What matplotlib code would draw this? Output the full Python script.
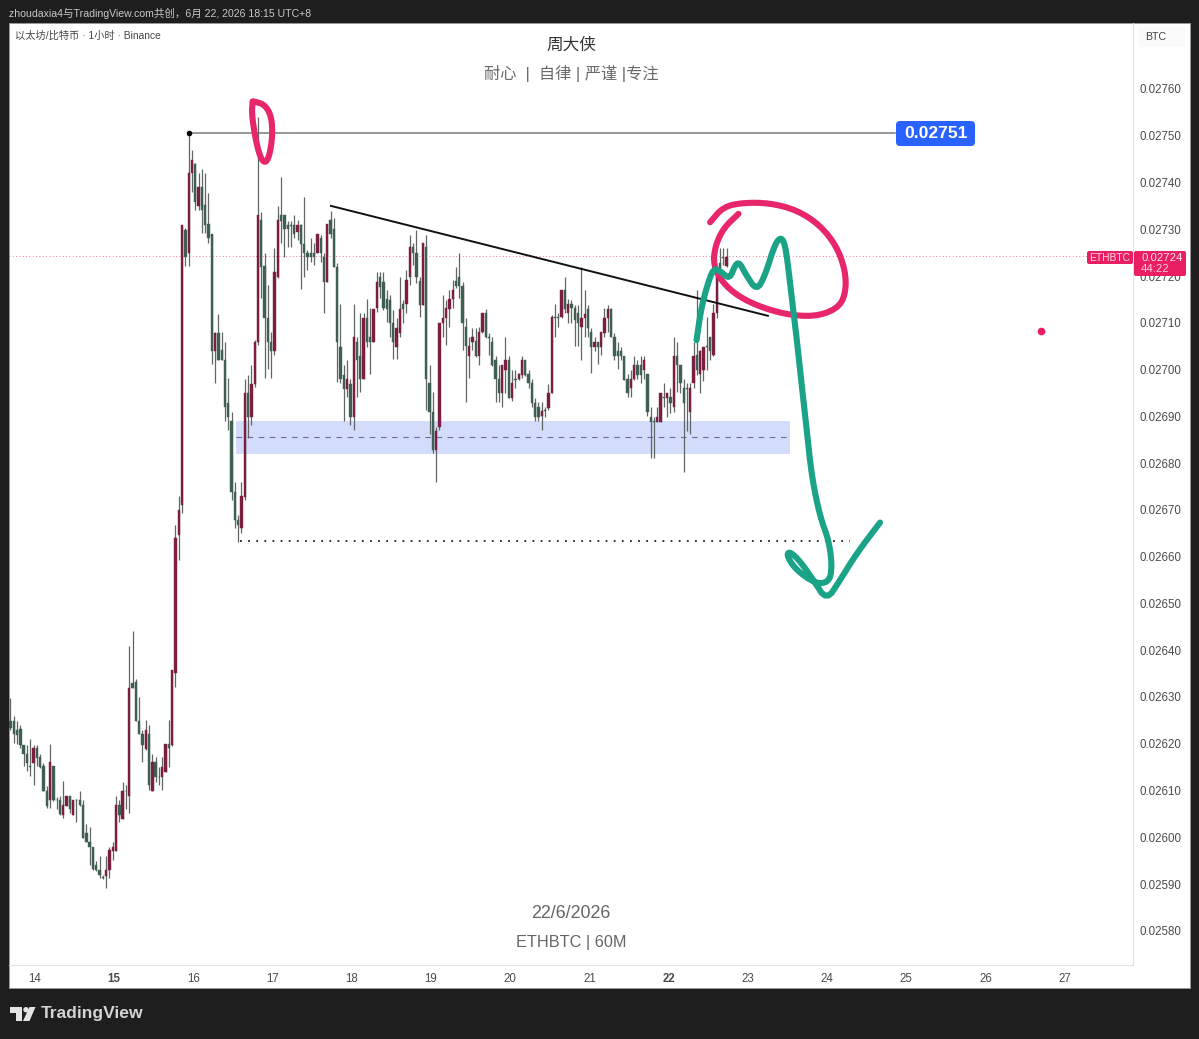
import matplotlib
matplotlib.use("Agg")
import matplotlib.pyplot as plt
import numpy as np
from matplotlib.patches import FancyBboxPatch, Polygon, Circle, Rectangle

plt.rcParams['font.family'] = ['Liberation Sans', 'Noto Sans CJK SC', 'DejaVu Sans']

# prices are in units of 0.00001 BTC, one candle per hour
UNIT = 1e-5

highs = [
    2629.8, 2626.0, 2624.8, 2624.1, 2619.8, 2619.8, 2621.0, 2619.8, 2619.8, 2617.9,
    2615.9, 2611.0, 2619.9, 2615.3, 2608.7, 2608.9, 2612.0, 2608.9, 2608.9, 2608.0,
    2608.2, 2610.0, 2608.0, 2602.9, 2602.2, 2598.0, 2595.0, 2595.9, 2592.0, 2595.9,
    2597.9, 2598.9, 2608.9, 2608.0, 2611.9, 2611.1, 2640.9, 2644.1, 2633.8, 2630.1,
    2623.0, 2625.0, 2624.1, 2617.9, 2617.1, 2615.1, 2617.1, 2620.0, 2625.0, 2635.8,
    2666.8, 2673.0, 2730.9, 2730.3, 2750.6, 2747.0, 2744.2, 2742.0, 2742.9, 2742.0,
    2737.8, 2729.0, 2708.1, 2711.9, 2708.1, 2705.9, 2698.2, 2691.0, 2676.0, 2668.9,
    2676.0, 2698.0, 2698.9, 2701.0, 2706.3, 2754.0, 2733.7, 2725.0, 2718.1, 2708.1,
    2726.0, 2735.0, 2741.2, 2733.1, 2731.8, 2731.8, 2733.1, 2732.0, 2731.1, 2736.9,
    2725.6, 2728.2, 2727.1, 2729.0, 2728.8, 2725.0, 2731.1, 2733.9, 2732.4, 2722.8,
    2714.0, 2701.0, 2702.1, 2698.0, 2714.0, 2707.0, 2712.1, 2712.1, 2715.1, 2713.2,
    2713.0, 2720.9, 2720.9, 2720.9, 2717.0, 2716.0, 2712.8, 2711.1, 2719.8, 2714.9,
    2721.3, 2728.8, 2727.1, 2729.9, 2719.8, 2727.1, 2728.8, 2701.0, 2695.2, 2687.8,
    2710.0, 2716.0, 2714.9, 2717.0, 2719.2, 2722.0, 2725.0, 2718.7, 2711.1, 2707.0,
    2708.9, 2708.9, 2709.1, 2712.1, 2713.0, 2707.8, 2707.0, 2702.9, 2701.0, 2701.0,
    2707.0, 2702.9, 2699.9, 2699.9, 2699.3, 2702.9, 2702.1, 2699.9, 2698.0, 2693.9,
    2693.1, 2693.1, 2692.0, 2696.9, 2711.7, 2714.0, 2712.1, 2717.0, 2719.8, 2715.1,
    2714.9, 2713.8, 2713.8, 2722.0, 2717.0, 2713.8, 2708.9, 2707.0, 2705.9, 2708.1,
    2713.2, 2713.8, 2713.2, 2707.8, 2705.9, 2704.9, 2702.9, 2699.1, 2699.9, 2702.9,
    2702.1, 2702.9, 2702.9, 2699.1, 2692.0, 2689.9, 2692.0, 2695.0, 2697.2, 2695.0,
    2696.1, 2707.0, 2705.9, 2701.0, 2698.0, 2697.2, 2697.2, 2705.9, 2717.0, 2704.2,
    2704.9, 2711.3, 2707.0, 2714.0, 2721.7, 2726.0, 2726.0, 2726.0,
]
lows = [
    2623.0, 2620.1, 2620.0, 2619.1, 2615.2, 2614.1, 2613.1, 2611.2, 2615.2, 2614.8,
    2609.8, 2606.2, 2606.2, 2607.7, 2606.0, 2604.8, 2604.2, 2606.6, 2605.2, 2604.8,
    2603.2, 2606.6, 2599.8, 2598.9, 2594.1, 2593.1, 2592.9, 2591.3, 2591.1, 2589.1,
    2591.3, 2595.2, 2597.0, 2603.2, 2603.9, 2606.0, 2605.2, 2631.9, 2624.8, 2622.0,
    2616.0, 2618.7, 2610.2, 2609.8, 2611.9, 2611.2, 2610.2, 2613.9, 2615.1, 2619.6,
    2632.2, 2659.3, 2669.4, 2722.2, 2722.2, 2738.0, 2734.1, 2734.1, 2729.2, 2729.2,
    2727.1, 2701.2, 2697.2, 2702.1, 2702.1, 2689.0, 2687.1, 2672.1, 2666.2, 2663.2,
    2665.1, 2672.1, 2685.4, 2688.2, 2696.3, 2705.3, 2715.3, 2698.2, 2700.2, 2698.2,
    2703.1, 2719.6, 2727.1, 2724.1, 2726.2, 2726.2, 2728.2, 2727.7, 2717.3, 2719.8,
    2721.3, 2723.0, 2722.4, 2725.0, 2723.0, 2712.1, 2718.7, 2728.2, 2722.0, 2697.4,
    2697.2, 2689.0, 2694.2, 2688.2, 2687.1, 2694.2, 2695.2, 2698.0, 2704.9, 2699.1,
    2705.9, 2712.3, 2715.3, 2712.8, 2710.2, 2707.0, 2702.3, 2702.3, 2707.0, 2710.0,
    2712.1, 2718.1, 2722.4, 2718.5, 2711.3, 2713.8, 2691.4, 2686.3, 2682.2, 2676.0,
    2687.1, 2707.0, 2705.3, 2709.1, 2713.2, 2717.5, 2715.3, 2704.2, 2693.1, 2698.2,
    2704.2, 2702.7, 2701.0, 2707.8, 2706.8, 2703.1, 2700.8, 2693.1, 2693.1, 2692.0,
    2695.0, 2693.9, 2693.3, 2696.1, 2697.8, 2698.2, 2698.6, 2696.1, 2692.0, 2689.0,
    2689.0, 2687.1, 2689.9, 2691.4, 2695.0, 2707.0, 2709.1, 2711.1, 2712.1, 2710.0,
    2710.0, 2705.1, 2705.1, 2702.1, 2707.0, 2707.0, 2699.3, 2704.0, 2701.2, 2703.1,
    2707.0, 2708.1, 2707.0, 2702.1, 2700.2, 2702.1, 2697.8, 2694.2, 2694.2, 2697.8,
    2698.0, 2697.2, 2698.0, 2690.1, 2681.1, 2681.1, 2688.8, 2688.8, 2692.0, 2689.9,
    2690.7, 2691.0, 2695.2, 2695.0, 2678.1, 2686.9, 2686.3, 2696.1, 2698.9, 2695.0,
    2697.6, 2699.9, 2702.1, 2702.9, 2711.1, 2719.8, 2722.4, 2722.0,
]
opens = [
    2624.8, 2624.8, 2623.0, 2623.1, 2619.8, 2617.9, 2615.2, 2615.9, 2619.1, 2617.1,
    2615.2, 2609.9, 2608.0, 2615.2, 2608.0, 2608.0, 2604.8, 2606.7, 2608.9, 2604.8,
    2608.0, 2608.0, 2607.0, 2600.9, 2599.1, 2597.9, 2594.1, 2593.1, 2591.6, 2591.8,
    2593.1, 2597.0, 2597.1, 2607.0, 2604.0, 2610.0, 2608.9, 2633.0, 2633.1, 2624.9,
    2622.1, 2618.9, 2622.1, 2609.9, 2616.0, 2613.0, 2613.0, 2613.9, 2620.0, 2619.8,
    2635.2, 2664.7, 2671.1, 2729.9, 2725.0, 2742.0, 2744.0, 2735.0, 2739.1, 2735.2,
    2731.1, 2729.0, 2704.0, 2707.8, 2704.2, 2702.1, 2692.9, 2689.0, 2673.9, 2667.9,
    2666.2, 2672.8, 2695.0, 2689.9, 2696.9, 2705.9, 2732.0, 2722.2, 2711.1, 2705.9,
    2704.0, 2719.8, 2733.1, 2733.1, 2730.9, 2730.9, 2730.9, 2729.4, 2730.9, 2726.9,
    2725.0, 2725.0, 2725.0, 2725.0, 2728.2, 2724.1, 2718.7, 2732.0, 2730.1, 2722.0,
    2704.9, 2698.9, 2695.9, 2696.9, 2689.9, 2705.9, 2702.9, 2698.0, 2711.1, 2707.0,
    2705.9, 2713.2, 2719.8, 2718.7, 2715.1, 2714.9, 2710.0, 2704.9, 2707.8, 2714.0,
    2714.0, 2719.8, 2726.2, 2725.0, 2719.0, 2713.8, 2726.2, 2697.2, 2691.0, 2682.8,
    2687.8, 2710.0, 2711.1, 2713.0, 2715.1, 2719.0, 2719.8, 2717.9, 2709.1, 2702.9,
    2705.9, 2706.1, 2702.9, 2708.1, 2712.1, 2707.0, 2705.9, 2702.1, 2698.0, 2695.0,
    2699.9, 2702.1, 2693.9, 2698.0, 2698.0, 2698.9, 2702.1, 2699.1, 2697.2, 2692.9,
    2692.0, 2690.1, 2691.4, 2691.8, 2695.0, 2711.3, 2711.3, 2711.3, 2717.0, 2712.1,
    2714.0, 2713.2, 2712.1, 2709.1, 2711.1, 2713.0, 2708.1, 2704.9, 2705.9, 2704.9,
    2707.8, 2711.1, 2713.0, 2707.0, 2704.0, 2704.0, 2702.9, 2698.0, 2696.1, 2698.0,
    2701.0, 2701.0, 2699.9, 2699.1, 2689.9, 2689.0, 2688.8, 2688.8, 2694.2, 2693.9,
    2694.2, 2692.0, 2702.9, 2701.0, 2696.1, 2696.1, 2691.0, 2697.2, 2703.1, 2699.1,
    2699.9, 2705.1, 2707.0, 2703.1, 2712.1, 2722.8, 2724.1, 2722.2,
]
closes = [
    2623.3, 2622.1, 2621.9, 2619.8, 2617.9, 2615.9, 2615.0, 2619.1, 2616.9, 2615.0,
    2609.8, 2606.7, 2616.0, 2608.0, 2607.9, 2605.0, 2607.0, 2608.9, 2606.0, 2608.0,
    2607.9, 2607.0, 2599.8, 2598.9, 2597.9, 2593.2, 2593.1, 2592.0, 2591.3, 2593.1,
    2597.2, 2597.9, 2607.0, 2604.8, 2610.0, 2609.9, 2631.9, 2632.0, 2624.9, 2622.1,
    2619.8, 2623.0, 2611.1, 2616.0, 2612.9, 2612.9, 2615.1, 2620.0, 2619.1, 2635.8,
    2664.0, 2670.0, 2730.9, 2724.1, 2742.0, 2744.8, 2735.8, 2739.1, 2734.1, 2730.9,
    2728.2, 2704.0, 2707.8, 2702.1, 2702.1, 2692.0, 2689.9, 2673.9, 2667.9, 2666.8,
    2673.0, 2695.0, 2689.9, 2696.9, 2705.9, 2733.1, 2722.0, 2711.1, 2705.9, 2704.0,
    2720.9, 2732.0, 2731.8, 2730.1, 2730.1, 2730.7, 2729.0, 2730.9, 2726.9, 2725.0,
    2724.1, 2724.1, 2724.1, 2729.0, 2725.0, 2718.7, 2731.1, 2729.0, 2722.0, 2705.9,
    2698.0, 2695.9, 2698.0, 2689.9, 2707.0, 2702.1, 2698.0, 2711.1, 2705.9, 2705.9,
    2713.0, 2718.7, 2717.7, 2713.2, 2713.0, 2710.0, 2705.9, 2708.9, 2713.0, 2713.0,
    2719.2, 2726.2, 2725.0, 2719.8, 2713.8, 2727.1, 2698.0, 2691.0, 2682.8, 2686.9,
    2710.0, 2711.1, 2713.2, 2715.1, 2717.0, 2717.9, 2717.9, 2710.0, 2705.1, 2705.1,
    2707.0, 2702.9, 2708.1, 2712.1, 2707.0, 2706.8, 2701.0, 2698.0, 2695.0, 2701.0,
    2702.1, 2693.9, 2697.2, 2697.8, 2699.1, 2702.1, 2698.9, 2697.2, 2692.9, 2689.9,
    2689.9, 2691.2, 2691.2, 2695.0, 2711.3, 2711.1, 2711.1, 2717.0, 2713.0, 2714.0,
    2713.2, 2710.6, 2710.0, 2711.1, 2711.9, 2708.9, 2704.9, 2705.9, 2704.9, 2708.1,
    2711.1, 2713.0, 2707.0, 2702.9, 2702.9, 2702.9, 2697.8, 2695.0, 2698.0, 2701.0,
    2698.9, 2698.9, 2702.1, 2691.0, 2688.8, 2688.8, 2689.9, 2695.0, 2693.9, 2695.0,
    2692.9, 2702.9, 2701.0, 2697.2, 2692.9, 2695.9, 2696.1, 2702.9, 2699.9, 2704.0,
    2704.9, 2704.9, 2704.0, 2712.1, 2720.9, 2719.8, 2723.9, 2724.1,
]

price_ticks = [2580, 2590, 2600, 2610, 2620, 2630, 2640, 2650, 2660, 2670,
               2680, 2690, 2700, 2710, 2720, 2730, 2740, 2750, 2760]
day_labels = [14, 15, 16, 17, 18, 19, 20, 21, 22, 23, 24, 25, 26, 27]
bold_days = [15, 22]
first_day_bar = 7.42

last_price = 2724.2
high_level = 2750.6
high_bar = 54.1
high_line_end = 268.0
low_level = 2663.4
low_line_bars = [69.5, 254.4]
trend_bars = [97.1, 229.5]
trend_prices = [2735.0, 2711.5]
zone_bars = [68.3, 236.2]
zone_prices = [2682.0, 2689.0]
zone_mid = 2685.6
stray_dot = (312.3, 2708.3)

# hand drawn strokes, bar number and price
green_bars = [207.9, 209.2, 211.0, 213.0, 215.2, 217.9, 219.6, 220.9, 222.6, 226.1, 228.7, 231.7,
              233.7, 235.0, 236.7, 238.3, 239.8, 241.3, 242.8, 245.3, 247.9, 248.9, 248.4, 245.3,
              241.3, 237.2, 235.2, 236.2, 239.3, 243.3, 247.3, 251.4, 256.4, 263.5]
green_prices = [2706.3, 2712.7, 2717.7, 2721.7, 2721.0, 2719.3, 2722.4, 2722.9, 2720.6, 2716.8, 2720.2, 2727.0,
                2728.4, 2725.9, 2715.6, 2706.3, 2696.4, 2687.1, 2677.1, 2668.6, 2663.6, 2658.6, 2655.0, 2654.1,
                2655.4, 2657.9, 2660.4, 2661.1, 2659.0, 2655.0, 2650.6, 2655.0, 2660.7, 2667.3]
circle_bars = [220.6, 216.0, 213.5, 213.0, 215.5, 220.6, 228.2, 237.2, 245.3, 251.4,
               253.2, 252.9, 250.4, 245.3, 238.3, 230.2, 222.1, 216.0, 212.0]
circle_prices = [2733.3, 2730.2, 2726.3, 2722.4, 2718.8, 2715.6, 2713.1, 2711.5, 2711.5, 2713.5,
                 2717.0, 2721.3, 2726.3, 2730.9, 2734.1, 2735.6, 2735.7, 2734.8, 2731.5]
loop_bars = [73.4, 73.1, 74.1, 75.6, 77.1, 78.4, 79.4, 79.1, 77.1, 74.1, 73.4]
loop_prices = [2757.3, 2754.8, 2749.8, 2745.5, 2744.1, 2745.5, 2749.8, 2754.1, 2756.6, 2757.3, 2757.3]

DARK = '#1e1e1e'
UP = '#7a1f42'
DOWN = '#3f5f50'
WICK = '#5f6664'
PINK = '#e8266c'
GREEN = '#1aa387'
TAG = '#e91e63'
W, H = 1199, 1039


def smooth(xs, ys, rounds=2):
    # corner cutting so the strokes look drawn by hand
    pts = np.column_stack([xs, ys])
    for _ in range(rounds):
        q = pts[:-1] * 0.75 + pts[1:] * 0.25
        r = pts[:-1] * 0.25 + pts[1:] * 0.75
        new = np.empty((len(q) * 2, 2))
        new[0::2] = q
        new[1::2] = r
        pts = np.vstack([pts[0], new, pts[-1]])
    return pts[:, 0], pts[:, 1]


fig = plt.figure(figsize=(W / 100, H / 100), dpi=100, facecolor=DARK)

# white panel behind everything
back = fig.add_axes([0, 0, 1, 1], zorder=0)
back.set_xlim(0, W)
back.set_ylim(H, 0)
back.axis('off')
back.add_patch(Rectangle((9, 23), 1181, 965, facecolor='white', edgecolor='#9a9a9a', lw=0.6))
back.add_patch(Rectangle((1138, 27), 48, 20, facecolor='#fafafa', edgecolor='none'))

ax = fig.add_axes([9 / W, 1 - 965 / H, 1124 / W, 942 / H], zorder=1)
ax.patch.set_alpha(0)
ax.set_xlim(-0.45, 340.15)
ax.set_ylim(2572.7 * UNIT, 2774.1 * UNIT)

o = np.array(opens) * UNIT
c = np.array(closes) * UNIT
hi = np.array(highs) * UNIT
lo = np.array(lows) * UNIT
bars = np.arange(len(o))
up = c >= o

# zone goes under the candles
ax.fill_between(zone_bars, zone_prices[0] * UNIT, zone_prices[1] * UNIT, color='#d3ddfb', lw=0, zorder=1)
ax.plot(zone_bars, [zone_mid * UNIT] * 2, color='#6d6a9c', lw=0.8, dashes=(5, 5), zorder=3)
ax.axhline(last_price * UNIT, color='#e0506e', lw=0.6, ls=(0, (1, 3)), zorder=1)
ax.plot([high_bar, high_line_end], [high_level * UNIT] * 2, color='#7a7a7a', lw=1.1, zorder=2)
ax.plot(high_bar, high_level * UNIT, 'o', color='black', ms=3, zorder=5)
ax.plot(low_line_bars, [low_level * UNIT] * 2, color='#222222', lw=1.3, ls=(0, (1, 3.5)), zorder=2)

ax.vlines(bars, lo, hi, color=WICK, lw=0.9, zorder=3)
ax.bar(bars[up], (c - o)[up], bottom=o[up], width=0.72, color=UP, edgecolor=UP, lw=0.3, zorder=4)
ax.bar(bars[~up], (o - c)[~up], bottom=c[~up], width=0.72, color=DOWN, edgecolor=DOWN, lw=0.3, zorder=4)

ax.plot(trend_bars, np.array(trend_prices) * UNIT, color='#111111', lw=1.4, zorder=5)

for xs, ys, col in [(circle_bars, circle_prices, PINK), (loop_bars, loop_prices, PINK),
                    (green_bars, green_prices, GREEN)]:
    sx, sy = smooth(xs, np.array(ys) * UNIT)
    ax.plot(sx, sy, color=col, lw=4.4, solid_capstyle='round', solid_joinstyle='round', zorder=6)
ax.plot(stray_dot[0], stray_dot[1] * UNIT, 'o', color=TAG, ms=4.5, zorder=6)

ax.yaxis.tick_right()
ax.set_yticks(np.array(price_ticks) * UNIT)
ax.set_yticklabels(['%.5f' % (p * UNIT) for p in price_ticks], fontsize=8.3, color='#4a4a4a')
ax.set_xticks([first_day_bar + 24 * i for i in range(len(day_labels))])
ax.set_xticklabels([str(d) for d in day_labels], fontsize=8.3, color='#4a4a4a')
for lab, d in zip(ax.get_xticklabels(), day_labels):
    if d in bold_days:
        lab.set_fontweight('bold')
ax.tick_params(axis='both', length=0)
ax.tick_params(axis='y', pad=5)
ax.tick_params(axis='x', pad=6)
for side in ['top', 'left']:
    ax.spines[side].set_visible(False)
for side in ['right', 'bottom']:
    ax.spines[side].set_color('#e0e3eb')
    ax.spines[side].set_linewidth(0.8)

# texts and price tags sit on top, placed in picture pixels
top = fig.add_axes([0, 0, 1, 1], zorder=2)
top.patch.set_alpha(0)
top.set_xlim(0, W)
top.set_ylim(H, 0)
top.axis('off')

top.text(9, 13, 'zhoudaxia4与TradingView.com共创，6月 22, 2026 18:15 UTC+8', fontsize=7.6, color='#c8c8c8', va='center')
top.text(15, 36, '以太坊/比特币 · 1小时 · Binance', fontsize=7.35, color='#444444', va='center')
top.text(1145, 37, 'BTC', fontsize=7.6, color='#444444', va='center')
top.text(571, 45, '周大侠', fontsize=12, color='#333333', ha='center', va='center')
top.text(571, 74, '耐心  |  自律 | 严谨 |专注', fontsize=11.7, color='#6a6a6a', ha='center', va='center')
top.text(571, 913, '22/6/2026', fontsize=12.9, color='#666666', ha='center', va='center')
top.text(571, 942, 'ETHBTC | 60M', fontsize=11.7, color='#666666', ha='center', va='center')

top.add_patch(FancyBboxPatch((898, 123), 75, 21, boxstyle='round,pad=2,rounding_size=4', facecolor='#2962ff', edgecolor='none'))
top.text(935.5, 133.5, '0.02751', fontsize=12.6, fontweight='bold', color='white', ha='center', va='center')

top.add_patch(FancyBboxPatch((1088, 252), 44, 11, boxstyle='round,pad=1,rounding_size=2', facecolor=TAG, edgecolor='none'))
top.text(1110, 258, 'ETHBTC', fontsize=7.4, color='#ffd9e6', ha='center', va='center')
top.add_patch(FancyBboxPatch((1135, 252), 50, 23, boxstyle='round,pad=1,rounding_size=2', facecolor=TAG, edgecolor='none'))
top.text(1141, 258, '0.02724', fontsize=8.2, color='#ffe3ec', va='center')
top.text(1141, 269, '44:22', fontsize=8.2, color='#ffc9da', va='center')

# TradingView logo
logo = '#e4e4e4'
top.add_patch(Polygon([(10, 1007), (22, 1007), (22, 1021), (16, 1021), (16, 1013), (10, 1013)], facecolor=logo, edgecolor='none'))
top.add_patch(Circle((26, 1009.7), 2.7, facecolor=logo, edgecolor='none'))
top.add_patch(Polygon([(29.5, 1007), (35.5, 1007), (29.5, 1021), (23, 1021)], facecolor=logo, edgecolor='none'))
top.text(41, 1013.5, 'TradingView', fontsize=12.6, fontweight='bold', color='#d4d4d4', va='center')

fig.savefig('out.png', dpi=100, facecolor=DARK)
